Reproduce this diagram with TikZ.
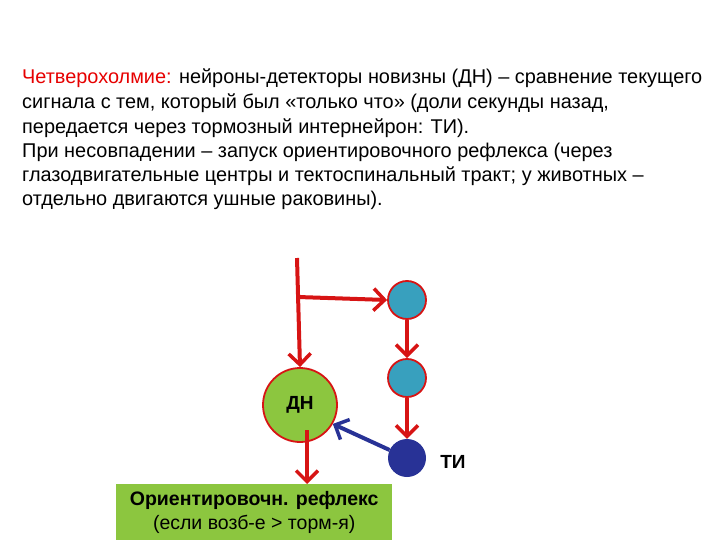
\documentclass[tikz,border=0pt]{standalone}
\usepackage{fontspec}
\setmainfont{Liberation Sans}
\usetikzlibrary{arrows.meta}
\definecolor{dred}{RGB}{215,20,20}
\definecolor{lgreen}{RGB}{140,198,63}
\definecolor{teal}{RGB}{56,160,190}
\definecolor{nblue}{RGB}{40,50,150}
\definecolor{tred}{RGB}{230,0,0}
\tikzset{
 red arrow/.style={draw=dred,line width=4pt,-{Straight Barb[length=11pt,width=22pt,line width=3.5pt]}},
 neuron/.style={circle,draw=dred,line width=1.8pt,minimum size=38pt,inner sep=0pt},
 txt/.style={anchor=west,font=\fontsize{19.9pt}{22pt}\selectfont,inner sep=0pt}
}
\begin{document}
\begin{tikzpicture}[x=1pt,y=-1pt]
\useasboundingbox (0,0) rectangle (720,540);
\node[txt] (l1) at (22,78) {\textcolor{tred}{Четверохолмие:} нейроны-детекторы новизны (ДН) – сравнение текущего};
\node[txt] (l2) at (22,103) {сигнала с тем, который был «только что» (доли секунды назад,};
\node[txt] (l3) at (22,128) {передается через тормозный интернейрон: ТИ).};
\node[txt] (l4) at (22,152) {При несовпадении – запуск ориентировочного рефлекса (через};
\node[txt] (l5) at (22,176) {глазодвигательные центры и тектоспинальный тракт; у животных –};
\node[txt] (l6) at (22,200) {отдельно двигаются ушные раковины).};
\node[neuron,fill=lgreen,minimum size=74pt,font=\fontsize{19pt}{22pt}\selectfont\bfseries] (dn) at (300,405) {ДН};
\node[neuron,fill=teal] (c1) at (407,300) {};
\node[neuron,fill=teal] (c2) at (407,378) {};
\node[circle,fill=nblue,minimum size=38pt,inner sep=0pt] (c3) at (407,458) {};
\node[font=\fontsize{19pt}{22pt}\selectfont\bfseries] (ti) at (453,462) {ТИ};
\node[fill=lgreen,minimum width=276pt,minimum height=57pt,anchor=north west,align=center,font=\fontsize{19.5pt}{24pt}\selectfont] (box) at (116,484) {\textbf{Ориентировочн. рефлекс}\\(если возб-е > торм-я)};
\coordinate (top) at (297,258);
\coordinate (br) at (298,297);
\draw[red arrow] (top) -- (dn.north);
\draw[red arrow] (br) -- (c1.west);
\draw[red arrow] (c1) -- (c2);
\draw[red arrow] (c2) -- (c3);
\draw[draw=nblue,line width=4pt,-{Straight Barb[length=11pt,width=22pt,line width=3.5pt]}] (c3) -- (dn.-30);
\draw[red arrow] ([xshift=7pt,yshift=-25pt]dn.center) -- ([xshift=7pt]dn.center |- box.north);
\end{tikzpicture}
\end{document}
